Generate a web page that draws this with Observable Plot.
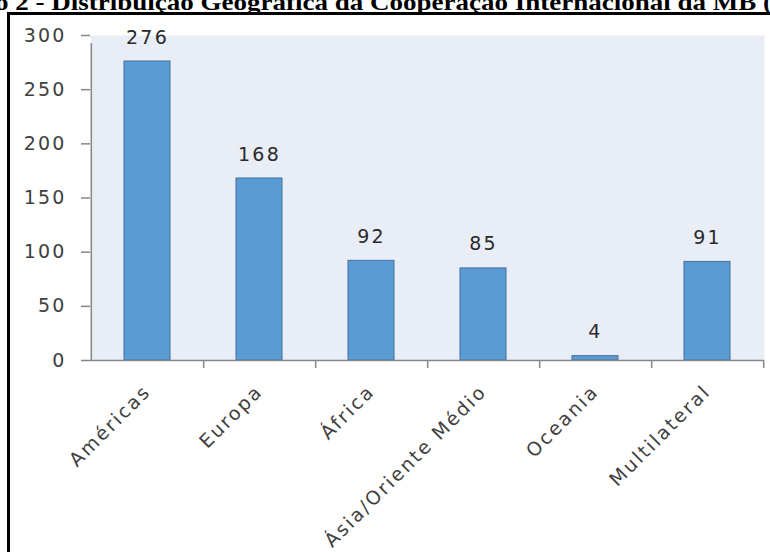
<!DOCTYPE html>
<html>
<head>
<meta charset="utf-8">
<script src="https://cdn.jsdelivr.net/npm/d3@7"></script>
<script src="https://cdn.jsdelivr.net/npm/@observablehq/plot@0.6"></script>
<style>
  html, body { margin: 0; padding: 0; background: #fff; }
  #wrap { position: relative; width: 770px; height: 552px; overflow: hidden; }
  #title { position: absolute; left: -5px; top: -10px; white-space: nowrap; line-height: 24px;
    font-family: "Liberation Serif", "Times New Roman", serif; font-weight: bold; font-size: 24px; color: #000;
    transform: scaleX(1.125); transform-origin: 0 0; }
  #box { position: absolute; left: 7px; top: 12px; width: 800px; height: 600px;
    border-left: 3px solid #000; border-top: 3px solid #000; background: #fff; }
  #chart { position: absolute; left: 0; top: 0; }
</style>
</head>
<body>
<div id="wrap">
  <div id="title">o 2 - Distribuição Geográfica da Cooperação Internacional da MB (1</div>
  <div id="box"></div>
  <div id="chart"></div>
</div>
<script>
const categories = ["Américas", "Europa", "África", "Ásia/Oriente Médio", "Oceania", "Multilateral"];
const values = [276, 168, 92, 85, 4, 91];
const yTicks = [0, 50, 100, 150, 200, 250, 300];

const data = categories.map((c, i) => ({regiao: c, valor: values[i]}));

const W = 770, H = 552, ML = 90, MR = 6, MT = 35, MB = 192;
const step = (W - ML - MR) / categories.length;

const chart = Plot.plot({
  width: W, height: H,
  marginLeft: ML, marginRight: MR, marginTop: MT, marginBottom: MB,
  style: {fontFamily: "'DejaVu Sans', sans-serif", fontSize: "19px", color: "#404040", background: "transparent", letterSpacing: "2.2px"},
  x: {domain: categories, padding: 0, label: null},
  y: {domain: [0, 300], label: null},
  marks: [
    Plot.frame({fill: "#e9edf6", stroke: null}),
    Plot.barY(data, {x: "regiao", y: "valor", fill: "#5b9bd5", stroke: "#41719c", strokeWidth: 1, insetLeft: 33, insetRight: 33}),
    Plot.text(data, {x: "regiao", y: "valor", text: d => String(d.valor), dy: -18, lineAnchor: "bottom", fill: "#2a2a2a"}),
    Plot.ruleY([0], {stroke: "#878787", strokeWidth: 1.5}),
    Plot.ruleX([categories[0]], {x: d => d, dx: -step / 2, y1: 0, y2: 300, insetBottom: -8, stroke: "#878787", strokeWidth: 1.5}),
    Plot.ruleX(categories, {x: d => d, dx: step / 2, y1: 0, y2: 0, insetBottom: -8, stroke: "#878787", strokeWidth: 1.5}),
    Plot.axisY({ticks: yTicks, tickSize: 9, tickPadding: 15, stroke: "#878787", strokeWidth: 1.5, tickFormat: d => String(d), label: null, fill: "#404040"}),
    Plot.axisX({tickSize: 0, tickRotate: -45, tickPadding: 28, label: null, fill: "#404040"})
  ]
});
document.getElementById("chart").appendChild(chart);
</script>
</body>
</html>
